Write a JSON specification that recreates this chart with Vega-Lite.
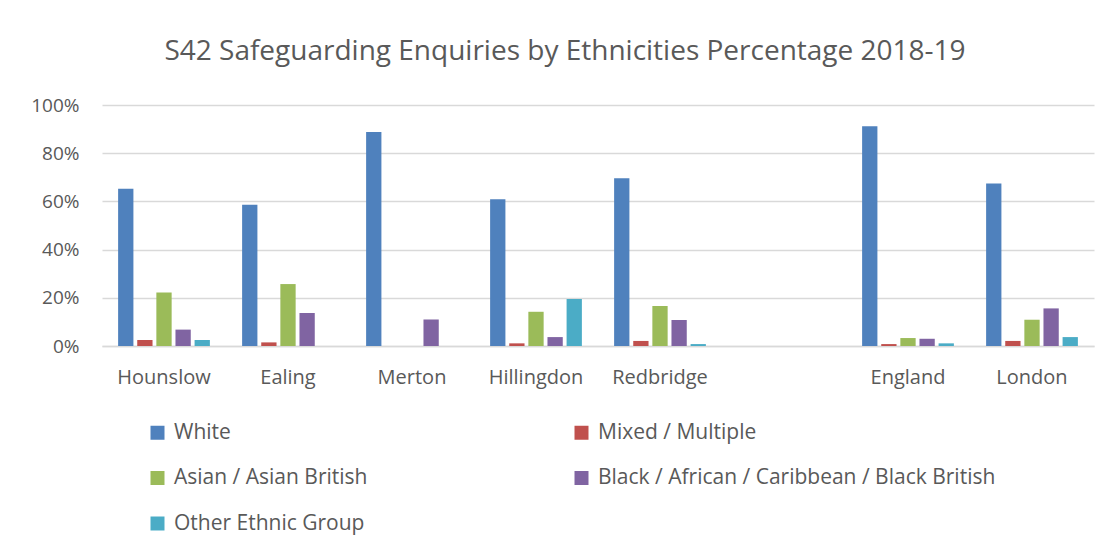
{
  "$schema": "https://vega.github.io/schema/vega-lite/v6.json",
  "autosize": {"type": "none"},
  "width": 992,
  "height": 241,
  "padding": {"left": 102, "top": 105, "right": 24, "bottom": 202},
  "background": "white",
  "title": {
    "text": "S42 Safeguarding Enquiries by Ethnicities Percentage 2018-19",
    "font": "Open Sans",
    "fontSize": 28,
    "fontWeight": "normal",
    "color": "#595959",
    "anchor": "middle",
    "dx": -33,
    "offset": 8,
    "baseline": "alphabetic"
  },
  "data": {
    "values": [
      {"area": "Hounslow", "group": "White", "pct": 0.653},
      {"area": "Hounslow", "group": "Mixed / Multiple", "pct": 0.025},
      {"area": "Hounslow", "group": "Asian / Asian British", "pct": 0.222},
      {"area": "Hounslow", "group": "Black / African / Caribbean / Black British", "pct": 0.068},
      {"area": "Hounslow", "group": "Other Ethnic Group", "pct": 0.025},
      {"area": "Ealing", "group": "White", "pct": 0.586},
      {"area": "Ealing", "group": "Mixed / Multiple", "pct": 0.015},
      {"area": "Ealing", "group": "Asian / Asian British", "pct": 0.257},
      {"area": "Ealing", "group": "Black / African / Caribbean / Black British", "pct": 0.137},
      {"area": "Ealing", "group": "Other Ethnic Group", "pct": 0},
      {"area": "Merton", "group": "White", "pct": 0.888},
      {"area": "Merton", "group": "Mixed / Multiple", "pct": 0},
      {"area": "Merton", "group": "Asian / Asian British", "pct": 0},
      {"area": "Merton", "group": "Black / African / Caribbean / Black British", "pct": 0.11},
      {"area": "Merton", "group": "Other Ethnic Group", "pct": 0},
      {"area": "Hillingdon", "group": "White", "pct": 0.609},
      {"area": "Hillingdon", "group": "Mixed / Multiple", "pct": 0.011},
      {"area": "Hillingdon", "group": "Asian / Asian British", "pct": 0.142},
      {"area": "Hillingdon", "group": "Black / African / Caribbean / Black British", "pct": 0.037},
      {"area": "Hillingdon", "group": "Other Ethnic Group", "pct": 0.195},
      {"area": "Redbridge", "group": "White", "pct": 0.696},
      {"area": "Redbridge", "group": "Mixed / Multiple", "pct": 0.021},
      {"area": "Redbridge", "group": "Asian / Asian British", "pct": 0.166},
      {"area": "Redbridge", "group": "Black / African / Caribbean / Black British", "pct": 0.108},
      {"area": "Redbridge", "group": "Other Ethnic Group", "pct": 0.008},
      {"area": "England", "group": "White", "pct": 0.912},
      {"area": "England", "group": "Mixed / Multiple", "pct": 0.008},
      {"area": "England", "group": "Asian / Asian British", "pct": 0.033},
      {"area": "England", "group": "Black / African / Caribbean / Black British", "pct": 0.03},
      {"area": "England", "group": "Other Ethnic Group", "pct": 0.011},
      {"area": "London", "group": "White", "pct": 0.674},
      {"area": "London", "group": "Mixed / Multiple", "pct": 0.021},
      {"area": "London", "group": "Asian / Asian British", "pct": 0.109},
      {"area": "London", "group": "Black / African / Caribbean / Black British", "pct": 0.156},
      {"area": "London", "group": "Other Ethnic Group", "pct": 0.037}
    ]
  },
  "mark": {"type": "bar"},
  "encoding": {
    "x": {
      "field": "area",
      "type": "nominal",
      "sort": null,
      "scale": {
        "domain": ["Hounslow", "Ealing", "Merton", "Hillingdon", "Redbridge", " ", "England", "London"],
        "paddingInner": 0.26,
        "paddingOuter": 0.13
      },
      "axis": {
        "title": null,
        "labelAngle": 0,
        "ticks": false,
        "tickSize": 0,
        "domain": true,
        "domainColor": "#d9d9d9",
        "domainWidth": 1.5,
        "grid": false,
        "labelFont": "Open Sans",
        "labelFontSize": 20,
        "labelColor": "#595959",
        "labelPadding": 21
      }
    },
    "xOffset": {
      "field": "group",
      "type": "nominal",
      "scale": {
        "domain": ["White", "Mixed / Multiple", "Asian / Asian British", "Black / African / Caribbean / Black British", "Other Ethnic Group"],
        "paddingInner": 0.2,
        "paddingOuter": 0
      }
    },
    "y": {
      "field": "pct",
      "type": "quantitative",
      "scale": {"domain": [0, 1]},
      "axis": {
        "title": null,
        "format": "%",
        "values": [0, 0.2, 0.4, 0.6, 0.8, 1],
        "grid": true,
        "gridColor": "#d9d9d9",
        "gridWidth": 1.5,
        "domain": false,
        "ticks": false,
        "tickSize": 0,
        "labelFont": "Open Sans",
        "labelFontSize": 19,
        "labelColor": "#595959",
        "labelPadding": 23
      }
    },
    "color": {
      "field": "group",
      "type": "nominal",
      "scale": {
        "domain": ["White", "Asian / Asian British", "Other Ethnic Group", "Mixed / Multiple", "Black / African / Caribbean / Black British"],
        "range": ["#4F81BD", "#9BBB59", "#4BACC6", "#C0504D", "#8064A2"]
      },
      "legend": {
        "title": null,
        "orient": "none",
        "legendX": 45,
        "legendY": 317,
        "columns": 2,
        "symbolType": "square",
        "symbolSize": 196,
        "symbolStrokeWidth": 0,
        "labelFont": "Open Sans",
        "labelFontSize": 21,
        "labelColor": "#595959",
        "labelOffset": 6,
        "labelLimit": 600,
        "columnPadding": 203,
        "rowPadding": 23.5
      }
    }
  },
  "config": {"view": {"stroke": null}}
}
